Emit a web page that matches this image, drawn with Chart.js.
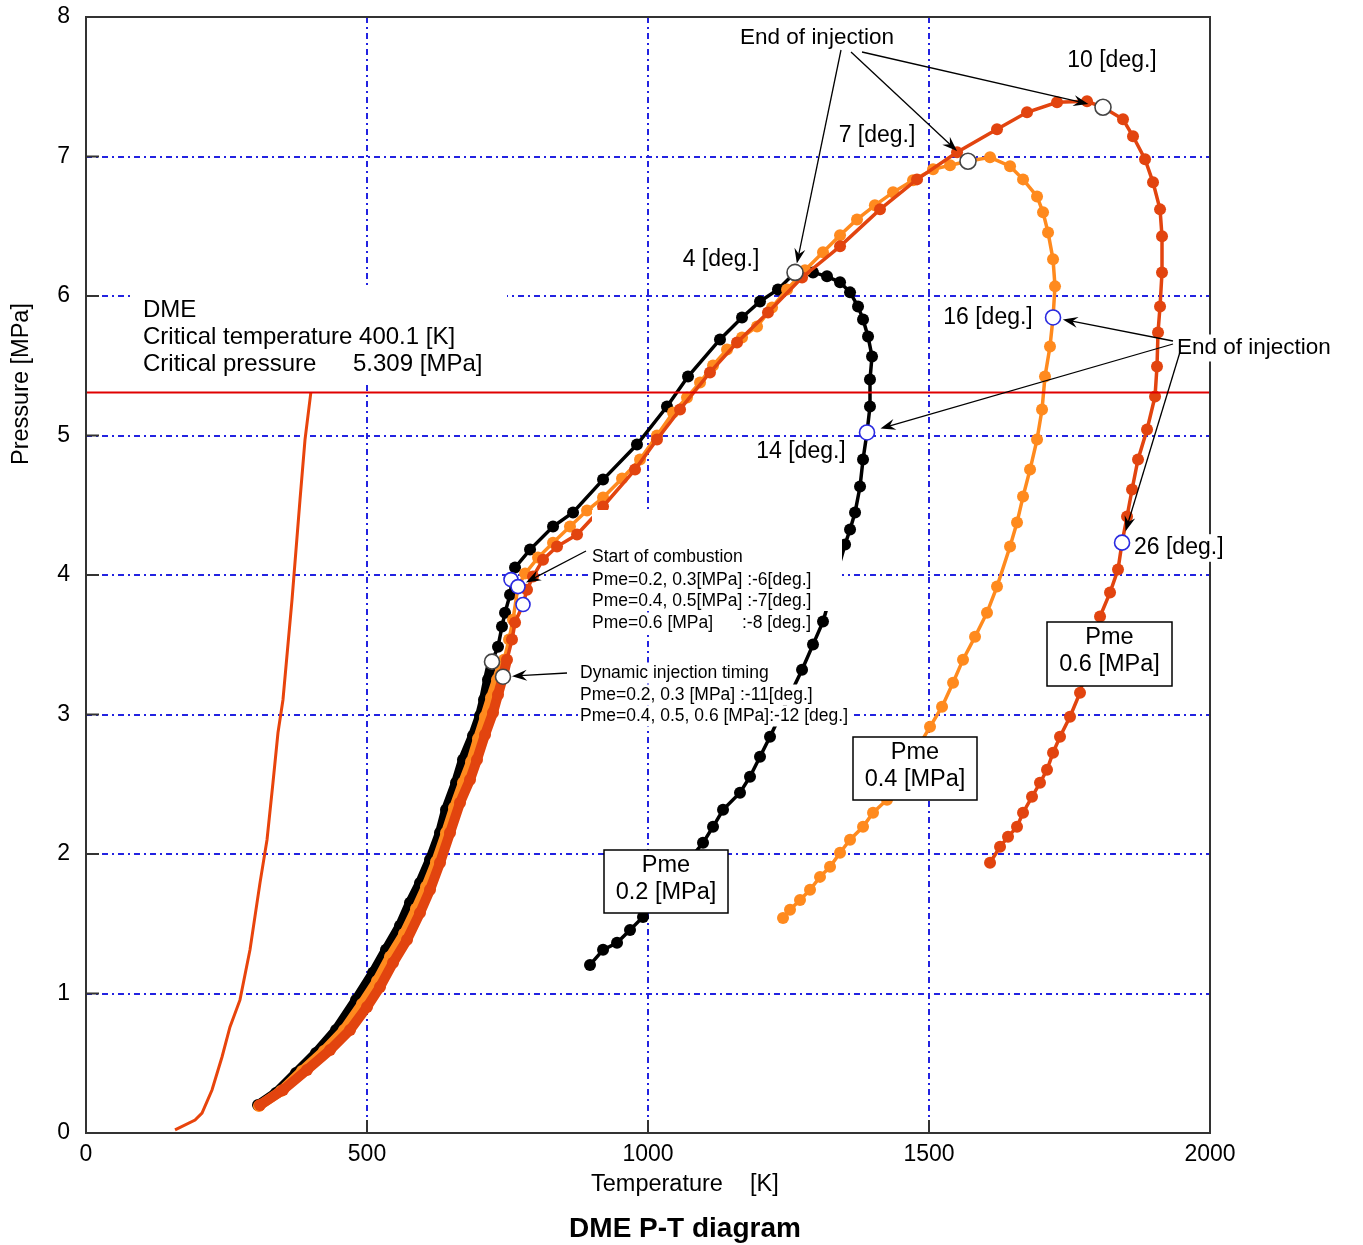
<!DOCTYPE html>
<html>
<head>
<meta charset="utf-8">
<script src="https://cdn.jsdelivr.net/npm/chart.js@4.4.1/dist/chart.umd.min.js"></script>
<style>
body { margin: 0; background: #fff; }
#wrap { width: 1363px; height: 1245px; }
</style>
</head>
<body>
<div id="wrap"><canvas id="pt" width="1363" height="1245"></canvas></div>
<script>
// DME P-T diagram (T in K, P in MPa)
var tempTicks = [0, 500, 1000, 1500, 2000];
var presTicks = [0, 1, 2, 3, 4, 5, 6, 7, 8];

var critT = 400.1, critP = 5.309;

// Pme 0.2 MPa (black)
var pme02T = [306.1, 338.1, 373.7, 409.3, 444.9, 480.4, 510.7, 533.8, 558.7, 576.5,
  594.3, 612.1, 629.9, 640.6, 658.4, 670.8, 688.6, 701.1, 708.2, 715.3,
  722.4, 733.1, 740.2, 745.6, 754.5, 756.2, 763.4, 790.1, 831.0, 866.6,
  920.0, 980.4, 1033.8, 1071.2, 1128.1, 1167.3, 1199.3, 1231.3, 1261.6, 1293.6,
  1318.5, 1341.7, 1359.5, 1373.7, 1382.6, 1391.5, 1398.6, 1395.0, 1395.0, 1389.7,
  1382.6, 1377.3, 1368.4, 1359.5, 1350.6, 1311.4, 1293.6, 1274.1, 1217.1, 1199.3,
  1181.5, 1163.7, 1133.5, 1115.7, 1097.9, 991.1, 968.0, 944.9, 920.0, 896.8];
var pme02P = [0.200, 0.287, 0.430, 0.574, 0.739, 0.954, 1.148, 1.313, 1.485, 1.650,
  1.793, 1.958, 2.152, 2.317, 2.511, 2.676, 2.848, 2.991, 3.106, 3.250,
  3.379, 3.486, 3.630, 3.730, 3.859, 3.967, 4.053, 4.182, 4.347, 4.448,
  4.684, 4.935, 5.208, 5.423, 5.689, 5.846, 5.961, 6.047, 6.169, 6.169,
  6.141, 6.098, 6.026, 5.925, 5.832, 5.710, 5.567, 5.402, 5.208, 5.022,
  4.828, 4.634, 4.448, 4.326, 4.218, 3.666, 3.501, 3.321, 2.841, 2.697,
  2.554, 2.439, 2.317, 2.195, 2.080, 1.549, 1.456, 1.363, 1.313, 1.205];

// Pme 0.4 MPa (orange)
var pme04T = [307.8, 347.0, 384.4, 423.5, 459.1, 491.1, 517.8, 540.9, 565.9, 587.2,
  605.0, 622.8, 640.6, 654.8, 670.8, 685.1, 697.5, 710.0, 720.7, 731.3,
  743.8, 752.7, 759.8, 768.7, 781.2, 804.3, 831.0, 861.2, 891.5, 920.0,
  953.8, 985.8, 1016.0, 1044.5, 1069.4, 1092.6, 1115.7, 1140.6, 1167.3, 1194.0,
  1220.7, 1247.4, 1279.4, 1311.4, 1341.7, 1371.9, 1403.7, 1436.0, 1471.6, 1507.2,
  1537.4, 1569.4, 1608.6, 1644.2, 1667.3, 1692.2, 1702.9, 1711.8, 1720.7, 1724.2,
  1720.7, 1715.3, 1706.4, 1701.1, 1692.2, 1679.8, 1667.3, 1656.6, 1644.2, 1621.0,
  1603.2, 1581.9, 1560.5, 1542.8, 1523.2, 1501.8, 1425.3, 1400.4, 1382.6, 1359.5,
  1341.7, 1323.9, 1306.1, 1288.3, 1270.5, 1252.7, 1240.2];
var pme04P = [0.194, 0.301, 0.445, 0.588, 0.739, 0.925, 1.090, 1.263, 1.428, 1.607,
  1.765, 1.944, 2.152, 2.331, 2.511, 2.661, 2.826, 2.984, 3.121, 3.250,
  3.393, 3.537, 3.680, 3.917, 4.010, 4.125, 4.232, 4.347, 4.462, 4.555,
  4.692, 4.828, 5.000, 5.165, 5.273, 5.380, 5.502, 5.617, 5.703, 5.782,
  5.918, 6.047, 6.184, 6.313, 6.435, 6.549, 6.650, 6.743, 6.829, 6.908,
  6.937, 6.966, 6.994, 6.930, 6.836, 6.714, 6.600, 6.456, 6.263, 6.069,
  5.846, 5.638, 5.423, 5.187, 4.971, 4.756, 4.562, 4.376, 4.204, 3.917,
  3.730, 3.558, 3.393, 3.228, 3.056, 2.912, 2.389, 2.296, 2.195, 2.102,
  2.009, 1.908, 1.836, 1.743, 1.671, 1.600, 1.542];

// Pme 0.6 MPa (red)
var pme06T = [309.6, 350.5, 393.2, 434.2, 469.8, 500.0, 523.1, 546.3, 571.2, 594.3,
  612.1, 629.9, 647.7, 665.5, 683.3, 695.7, 710.0, 724.2, 733.1, 742.0,
  749.1, 758.0, 763.4, 777.6, 784.7, 795.4, 813.2, 838.1, 873.7, 920.0,
  976.9, 1016.0, 1057.0, 1110.3, 1158.4, 1213.5, 1274.1, 1341.7, 1412.8, 1478.7,
  1549.9, 1621.0, 1674.4, 1727.8, 1781.2, 1809.6, 1845.2, 1863.0, 1884.4, 1898.6,
  1911.1, 1914.6, 1914.6, 1911.1, 1907.5, 1905.7, 1902.2, 1888.0, 1871.9, 1861.3,
  1852.4, 1843.5, 1836.3, 1822.1, 1804.3, 1768.7, 1750.9, 1733.1, 1720.7, 1710.0,
  1697.5, 1683.3, 1667.3, 1656.6, 1640.6, 1626.4, 1608.6];
var pme06P = [0.201, 0.308, 0.452, 0.595, 0.739, 0.904, 1.047, 1.220, 1.385, 1.578,
  1.743, 1.937, 2.152, 2.367, 2.532, 2.676, 2.855, 3.013, 3.142, 3.271,
  3.393, 3.537, 3.659, 3.788, 3.895, 3.989, 4.110, 4.204, 4.290, 4.491,
  4.756, 4.971, 5.187, 5.452, 5.667, 5.882, 6.133, 6.356, 6.621, 6.836,
  7.030, 7.195, 7.317, 7.389, 7.396, 7.353, 7.267, 7.145, 6.980, 6.815,
  6.621, 6.428, 6.169, 5.925, 5.739, 5.495, 5.280, 5.043, 4.828, 4.613,
  4.419, 4.232, 4.039, 3.874, 3.702, 3.156, 2.984, 2.841, 2.726, 2.604,
  2.511, 2.410, 2.296, 2.195, 2.123, 2.052, 1.937];

// saturation (vapour pressure) line up to the critical point
var vapT = [158.4, 194.0, 206.4, 224.2, 242.0, 256.2, 274.0, 291.8, 309.6, 322.1,
  332.7, 341.6, 350.5, 366.6, 380.8, 389.7, 400.1];
var vapP = [0.022, 0.093, 0.143, 0.308, 0.545, 0.760, 0.954, 1.313, 1.793, 2.102,
  2.511, 2.869, 3.106, 3.824, 4.541, 4.971, 5.309];

// open markers: end of injection, start of combustion, injection timing
var eoiDarkT = [1261.6, 1569.4, 1809.6];   // 4, 7, 10 deg
var eoiDarkP = [6.169, 6.966, 7.353];
var eoiBlueT = [1389.7, 1720.7, 1843.5];   // 14, 16, 26 deg
var eoiBlueP = [5.022, 5.846, 4.232];
var socT = [756.2, 768.7, 777.6];
var socP = [3.967, 3.917, 3.788];
var injT = [722.4, 742.0];
var injP = [3.379, 3.271];

var FONT = '"Liberation Sans", Arial, Helvetica, sans-serif';

function xy(t, p) {
  return t.map(function(v, i) { return {x: v, y: p[i]}; });
}

// thick band for the dense compression points
function segWidth(c) {
  return (c.p0.parsed.y < 3.3 && c.p0.parsed.x < 800) ? 10 : 3.5;
}

function curve(label, t, p, col) {
  return {
    label: label, data: xy(t, p), showLine: true,
    borderColor: col, backgroundColor: col, borderWidth: 3.5,
    pointRadius: 6, pointBorderWidth: 0, pointBackgroundColor: col,
    segment: { borderWidth: segWidth }
  };
}

function ring(label, t, p, col, r) {
  return {
    label: label, data: xy(t, p), showLine: false,
    pointRadius: r, pointBackgroundColor: '#fff',
    pointBorderColor: col, pointBorderWidth: 1.6
  };
}

function txt(c, s, x, y, size, align, bg, bold) {
  c.font = (bold ? 'bold ' : '') + size + 'px ' + FONT;
  c.textAlign = align || 'left';
  c.textBaseline = 'middle';
  if (bg) {
    var w = c.measureText(s).width;
    var x0 = align === 'center' ? x - w / 2 : (align === 'right' ? x - w : x);
    c.fillStyle = '#fff';
    c.fillRect(x0 - 2, y - size * 0.6, w + 4, size * 1.2);
  }
  c.fillStyle = '#000';
  c.fillText(s, x, y);
}

function arrowTo(c, x1, y1, cx, cy, gap) {
  var dx = cx - x1, dy = cy - y1, len = Math.sqrt(dx * dx + dy * dy);
  var ux = dx / len, uy = dy / len;
  var tx = cx - ux * gap, ty = cy - uy * gap;
  c.strokeStyle = '#000';
  c.lineWidth = 1.3;
  c.beginPath(); c.moveTo(x1, y1); c.lineTo(tx - ux * 8, ty - uy * 8); c.stroke();
  var hl = 15, hw = 5.5;
  c.fillStyle = '#000';
  c.beginPath();
  c.moveTo(tx, ty);
  c.lineTo(tx - ux * hl - uy * hw, ty - uy * hl + ux * hw);
  c.lineTo(tx - ux * hl * 0.65, ty - uy * hl * 0.65);
  c.lineTo(tx - ux * hl + uy * hw, ty - uy * hl - ux * hw);
  c.closePath();
  c.fill();
}

function pmeBox(c, x, y, w, h, l2) {
  c.fillStyle = '#fff';
  c.fillRect(x, y, w, h);
  c.strokeStyle = '#000';
  c.lineWidth = 1.5;
  c.strokeRect(x, y, w, h);
  txt(c, 'Pme', x + w / 2, y + 16, 23.5, 'center');
  txt(c, l2, x + w / 2, y + 43, 23.5, 'center');
}

var decor = {
  id: 'decor',
  beforeDatasetsDraw: function(chart) {
    var c = chart.ctx, a = chart.chartArea, sx = chart.scales.x, sy = chart.scales.y;
    c.save();
    c.strokeStyle = 'rgb(35,35,225)';
    c.lineWidth = 2;
    c.setLineDash([6, 4, 2, 4]);
    tempTicks.forEach(function(t) {
      if (t <= sx.min || t >= sx.max) return;
      var px = Math.round(sx.getPixelForValue(t));
      c.beginPath(); c.moveTo(px, a.top); c.lineTo(px, a.bottom); c.stroke();
    });
    presTicks.forEach(function(p) {
      if (p <= sy.min || p >= sy.max) return;
      var py = Math.round(sy.getPixelForValue(p));
      c.beginPath(); c.moveTo(a.left, py); c.lineTo(a.right, py); c.stroke();
    });
    c.restore();
  },
  afterDatasetsDraw: function(chart) {
    var c = chart.ctx, a = chart.chartArea, sx = chart.scales.x, sy = chart.scales.y;
    function P(t, p) { return [sx.getPixelForValue(t), sy.getPixelForValue(p)]; }
    c.save();
    // frame and inner tick marks
    c.strokeStyle = '#333';
    c.lineWidth = 2;
    c.strokeRect(a.left, a.top, a.right - a.left, a.bottom - a.top);
    c.beginPath();
    presTicks.forEach(function(p) {
      var py = sy.getPixelForValue(p);
      c.moveTo(a.left, py); c.lineTo(a.left + 13, py);
    });
    tempTicks.forEach(function(t) {
      var px = sx.getPixelForValue(t);
      c.moveTo(px, a.bottom); c.lineTo(px, a.bottom - 13);
    });
    c.stroke();

    // DME info box
    c.fillStyle = '#fff';
    c.fillRect(133, 289, 374, 96);
    txt(c, 'DME', 143, 310, 24, 'left');
    txt(c, 'Critical temperature ' + critT.toFixed(1) + ' [K]', 143, 337, 24, 'left');
    txt(c, 'Critical pressure', 143, 364, 24, 'left');
    txt(c, critP.toFixed(3) + ' [MPa]', 353, 364, 24, 'left');

    // start of combustion block
    c.fillStyle = '#fff';
    c.fillRect(592, 510, 250, 101);
    txt(c, 'Start of combustion', 592, 557, 17.5, 'left');
    txt(c, 'Pme=0.2, 0.3[MPa] :-6[deg.]', 592, 580, 17.5, 'left');
    txt(c, 'Pme=0.4, 0.5[MPa] :-7[deg.]', 592, 601, 17.5, 'left');
    txt(c, 'Pme=0.6 [MPa]', 592, 623, 17.5, 'left', true);
    txt(c, ':-8 [deg.]', 742, 623, 17.5, 'left', true);

    // dynamic injection timing block
    txt(c, 'Dynamic injection timing', 580, 673, 17.5, 'left', true);
    txt(c, 'Pme=0.2, 0.3 [MPa] :-11[deg.]', 580, 695, 17.5, 'left', true);
    txt(c, 'Pme=0.4, 0.5, 0.6 [MPa]:-12 [deg.]', 580, 716, 17.5, 'left', true);

    // Pme boxes
    pmeBox(c, 604, 850, 124, 63, '0.2 [MPa]');
    pmeBox(c, 853, 737, 124, 63, '0.4 [MPa]');
    pmeBox(c, 1047, 622, 125, 64, '0.6 [MPa]');

    // end of injection labels
    txt(c, 'End of injection', 817, 38, 22.5, 'center', true);
    txt(c, '10 [deg.]', 1112, 61, 23, 'center', true);
    txt(c, '7 [deg.]', 877, 136, 23, 'center', true);
    txt(c, '4 [deg.]', 721, 260, 23, 'center', true);
    txt(c, '16 [deg.]', 988, 318, 23, 'center', true);
    txt(c, 'End of injection', 1177, 348, 22.5, 'left', true);
    txt(c, '26 [deg.]', 1134, 548, 23, 'left', true);
    txt(c, '14 [deg.]', 801, 452, 23, 'center', true);

    // arrows
    var d0 = P(eoiDarkT[0], eoiDarkP[0]), d1 = P(eoiDarkT[1], eoiDarkP[1]), d2 = P(eoiDarkT[2], eoiDarkP[2]);
    arrowTo(c, 841, 50, d0[0], d0[1], 9);
    arrowTo(c, 851, 52, d1[0], d1[1], 15);
    arrowTo(c, 862, 52, d2[0], d2[1], 15);
    var b0 = P(eoiBlueT[0], eoiBlueP[0]), b1 = P(eoiBlueT[1], eoiBlueP[1]), b2 = P(eoiBlueT[2], eoiBlueP[2]);
    arrowTo(c, 1173, 341, b1[0], b1[1], 10);
    arrowTo(c, 1173, 344, b0[0], b0[1], 14);
    arrowTo(c, 1180, 352, b2[0], b2[1], 12);
    var s1 = P(socT[1], socP[1]);
    arrowTo(c, 586, 551, s1[0], s1[1], 9);
    var i1 = P(injT[1], injP[1]);
    arrowTo(c, 567, 673, i1[0], i1[1], 9);

    // axis titles and caption
    c.save();
    c.translate(22, 384);
    c.rotate(-Math.PI / 2);
    txt(c, 'Pressure [MPa]', 0, 0, 23.5, 'center');
    c.restore();
    txt(c, 'Temperature', 591, 1185, 23.5, 'left');
    txt(c, '[K]', 750, 1185, 23.5, 'left');
    txt(c, 'DME P-T diagram', 685, 1229, 28, 'center', false, true);
    c.restore();
  }
};

var chart = new Chart(document.getElementById('pt'), {
  type: 'scatter',
  data: {
    datasets: [
      {
        label: 'Critical pressure', data: [{x: tempTicks[0], y: critP}, {x: tempTicks[tempTicks.length - 1], y: critP}],
        showLine: true, borderColor: '#e00000', borderWidth: 2, pointRadius: 0
      },
      ring('End of injection', eoiDarkT, eoiDarkP, '#444', 8),
      ring('End of injection (blue)', eoiBlueT, eoiBlueP, '#2a2ae0', 7.5),
      ring('Start of combustion', socT, socP, '#2a2ae0', 7),
      ring('Injection timing', injT, injP, '#444', 7.5),
      curve('Pme 0.6', pme06T, pme06P, '#e2440f'),
      curve('Pme 0.4', pme04T, pme04P, '#ff8a1e'),
      curve('Pme 0.2', pme02T, pme02P, '#000'),
      {
        label: 'Saturation', data: xy(vapT, vapP), showLine: true,
        borderColor: '#e8440c', borderWidth: 3, pointRadius: 0
      }
    ]
  },
  options: {
    responsive: false,
    animation: false,
    devicePixelRatio: 1,
    layout: { padding: { left: 0, top: 17, right: 153, bottom: 0 } },
    plugins: { legend: { display: false }, tooltip: { enabled: false } },
    elements: { line: { tension: 0 } },
    scales: {
      x: {
        type: 'linear', min: 0, max: 2000,
        ticks: {
          stepSize: 500, color: '#000', padding: 8, maxRotation: 0,
          font: { family: FONT, size: 23 },
          callback: function(v) { return String(v); }
        },
        grid: { display: false, drawTicks: false },
        border: { display: false },
        afterFit: function(s) { s.height = 112; s.paddingLeft = 0; s.paddingRight = 0; }
      },
      y: {
        type: 'linear', min: 0, max: 8,
        ticks: {
          stepSize: 1, color: '#000', padding: 16,
          font: { family: FONT, size: 23 },
          callback: function(v) { return String(v); }
        },
        grid: { display: false, drawTicks: false },
        border: { display: false },
        afterFit: function(s) { s.width = 86; s.paddingTop = 0; s.paddingBottom = 0; }
      }
    }
  },
  plugins: [decor]
});
</script>
</body>
</html>
